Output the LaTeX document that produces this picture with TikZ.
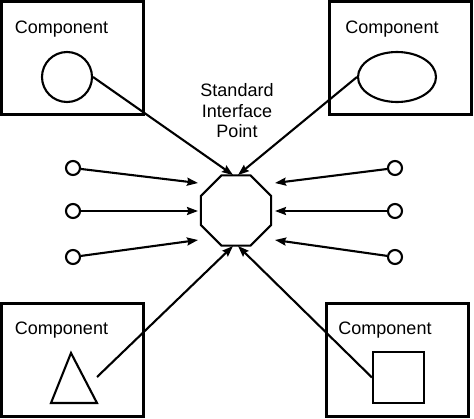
\documentclass[tikz,border=0pt]{standalone}
\usepackage{fontspec}
\setmainfont{Liberation Sans}
\usetikzlibrary{positioning,calc}
\usetikzlibrary{arrows.meta,shapes.geometric}

\begin{document}
\begin{tikzpicture}[x=1pt,y=-1pt,line width=2.1pt,
                >={Stealth[length=11pt,width=8pt,inset=1.5pt]},
                compbox/.style={draw,line width=2.5pt,inner sep=0pt,minimum width=142pt,minimum height=113pt},
                complabel/.style={anchor=base,inner sep=0pt,font=\fontsize{18}{20.5}\selectfont},
                port/.style={draw,circle,inner sep=0pt,minimum size=14pt}]

\useasboundingbox (0,0) rectangle (474,418);

% component boxes
\node[compbox] (boxTL) at (72.5,58)  {};
\node[compbox] (boxTR) at (400.5,58) {};
\node[compbox] (boxBL) at (72.5,360) {};
\node[compbox] (boxBR) at (397.5,360) {};

\node[complabel] (labTL) at (61.5,33)  {Component};
\node[complabel] (labTR) at (392,33)   {Component};
\node[complabel] (labBL) at (61.5,334) {Component};
\node[complabel] (labBR) at (385,334)  {Component};

% shapes inside the boxes
\node[draw,circle,inner sep=0pt,minimum size=50pt] (circTL) at (67,77) {};
\node[draw,ellipse,inner sep=0pt,minimum width=78pt,minimum height=50pt] (ellTR) at (397,77) {};
\node[draw,rectangle,inner sep=0pt,minimum size=51pt] (sqBR) at (398.5,377.5) {};
\draw (71,353) -- (97,403) -- (51,403) -- cycle;
\coordinate (triBL) at (97,377);

% standard interface point
\node[draw,regular polygon,regular polygon sides=8,inner sep=0pt,minimum size=76pt] (sip) at (236,210.5) {};
\node[align=center,font=\fontsize{18}{20.5}\selectfont] (siplab) at (237,111) {Standard\\Interface\\Point};

\coordinate (inTL) at (233,175);
\coordinate (inTR) at (238,175);
\coordinate (inBL) at (233,246);
\coordinate (inBR) at (238,246);

\draw[->] (circTL.east) -- (inTL);
\draw[->] (ellTR.west) -- (inTR);
\draw[->] (triBL) -- (inBL);
\draw[->] (sqBR.west) -- (inBR);

% small ports on both sides
\foreach \y/\t [count=\i] in {168/183,211/211,257/240}
{
  \node[port] (pl\i) at (73,\y) {};
  \node[port] (pr\i) at (395,\y) {};
  \coordinate (tl\i) at (198,\t);
  \coordinate (tr\i) at (275,\t);
  \draw[->] (pl\i) -- (tl\i);
  \draw[->] (pr\i) -- (tr\i);
}

\end{tikzpicture}
\end{document}
